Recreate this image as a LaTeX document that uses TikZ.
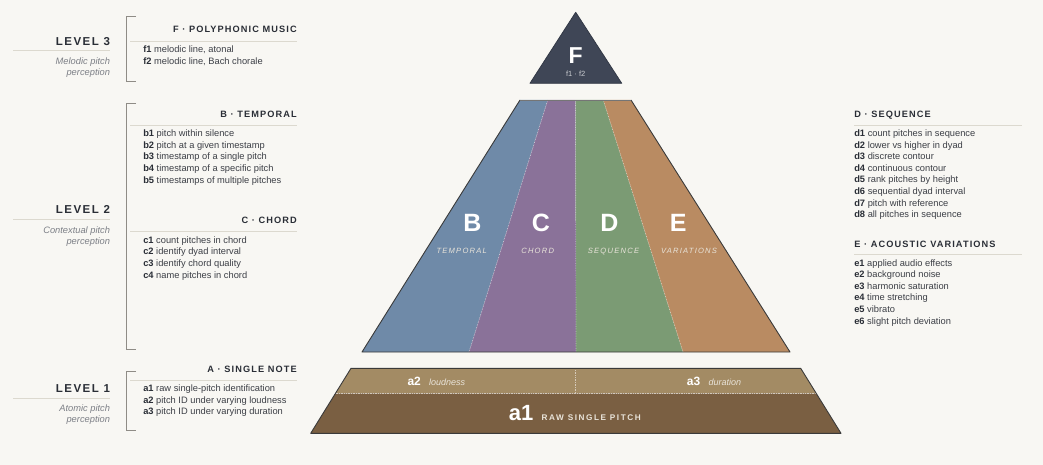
\documentclass[tikz,border=0pt]{standalone}
\usepackage{fontspec}
\setmainfont{Liberation Sans}
\newfontfamily\lvfont[LetterSpace=13]{Liberation Sans}
\newfontfamily\hdfont[LetterSpace=12]{Liberation Sans}
\newfontfamily\lbfont[LetterSpace=16]{Liberation Sans}
\newfontfamily\rawfont[LetterSpace=19]{Liberation Sans}
\definecolor{bg}{HTML}{F8F7F3}
\definecolor{ink}{HTML}{2A2E36}
\definecolor{itemc}{HTML}{3C3F46}
\definecolor{grayc}{HTML}{7C7F86}
\definecolor{rulec}{HTML}{DCD9CF}
\definecolor{brkc}{HTML}{8F8C86}
\definecolor{fcol}{HTML}{3F4656}
\definecolor{bcol}{HTML}{6F8AA8}
\definecolor{ccol}{HTML}{8A7299}
\definecolor{dcol}{HTML}{7B9B74}
\definecolor{ecol}{HTML}{B98B62}
\definecolor{atop}{HTML}{A38B64}
\definecolor{abot}{HTML}{7A5F42}
\definecolor{edge}{HTML}{3A3A3A}
\definecolor{lblc}{HTML}{E9E4DA}
\begin{document}
\begin{tikzpicture}[x=1pt,y=-1pt,
  every node/.style={inner sep=0pt, outer sep=0pt},
  lvl/.style={anchor=base east, font=\lvfont\bfseries\fontsize{11.5}{13}\selectfont, text=ink},
  lvsub/.style={anchor=base east, font=\itshape\fontsize{9.3}{11}\selectfont, text=grayc},
  headl/.style={anchor=base east, font=\hdfont\bfseries\fontsize{9.2}{11}\selectfont, text=ink},
  headr/.style={anchor=base west, font=\hdfont\bfseries\fontsize{9.2}{11}\selectfont, text=ink},
  item/.style={anchor=base west, font=\fontsize{9.3}{11}\selectfont, text=itemc},
  rl/.style={draw=rulec, line width=0.8pt},
  brk/.style={draw=brkc, line width=0.9pt},
  bigl/.style={anchor=base, font=\bfseries\fontsize{25}{28}\selectfont, text=white},
  bandl/.style={anchor=base, font=\lbfont\itshape\fontsize{7.6}{9}\selectfont, text=lblc},
  divl/.style={draw=white, opacity=0.45, line width=0.7pt, densely dotted},
  outl/.style={draw=edge, line width=0.9pt, line join=round}
]
\fill[bg] (0,0) rectangle (1043,465);
\useasboundingbox (0,0) rectangle (1043,465);

% ---------- left column: levels ----------
\node[lvl] (lv3) at (110,45.7) {LEVEL 3};
\draw[rl] (13,50) -- (110,50);
\node[lvsub] (lv3a) at (110,64.3) {Melodic pitch};
\node[lvsub] (lv3b) at (110,75.7) {perception};

\node[lvl] (lv2) at (110,213.3) {LEVEL 2};
\draw[rl] (13,219.3) -- (110,219.3);
\node[lvsub] (lv2a) at (110,233.3) {Contextual pitch};
\node[lvsub] (lv2b) at (110,244.5) {perception};

\node[lvl] (lv1) at (110,392.3) {LEVEL 1};
\draw[rl] (13,398.3) -- (110,398.3);
\node[lvsub] (lv1a) at (110,411) {Atomic pitch};
\node[lvsub] (lv1b) at (110,422.7) {perception};

% brackets
\draw[brk] (136,16) -- (126.7,16) -- (126.7,81) -- (136,81);
\draw[brk] (136,103.3) -- (126.7,103.3) -- (126.7,349) -- (136,349);
\draw[brk] (136,371) -- (126.7,371) -- (126.7,430.7) -- (136,430.7);

% F block
\node[headl] (hF) at (296.7,32.3) {F · POLYPHONIC MUSIC};
\draw[rl] (130,41) -- (297,41);
\foreach \c/\t [count=\i] in {f1/{melodic line, atonal}, f2/{melodic line, Bach chorale}}
  \node[item] (itF\i) at (143.3,{52.7+11.6*(\i-1)}) {\textbf{\textcolor{ink}{\c}} \t};

% B block
\node[headl] (hB) at (296.7,117.7) {B · TEMPORAL};
\draw[rl] (130,125.7) -- (297,125.7);
\foreach \c/\t [count=\i] in {b1/{pitch within silence}, b2/{pitch at a given timestamp}, b3/{timestamp of a single pitch}, b4/{timestamp of a specific pitch}, b5/{timestamps of multiple pitches}}
  \node[item] (itB\i) at (143.3,{136.7+11.6*(\i-1)}) {\textbf{\textcolor{ink}{\c}} \t};

% C block
\node[headl] (hC) at (296.7,223.3) {C · CHORD};
\draw[rl] (130,231) -- (297,231);
\foreach \c/\t [count=\i] in {c1/{count pitches in chord}, c2/{identify dyad interval}, c3/{identify chord quality}, c4/{name pitches in chord}}
  \node[item] (itC\i) at (143.3,{243.3+11.6*(\i-1)}) {\textbf{\textcolor{ink}{\c}} \t};

% A block
\node[headl] (hA) at (296.7,372.3) {A · SINGLE NOTE};
\draw[rl] (130,380) -- (297,380);
\foreach \c/\t [count=\i] in {a1/{raw single-pitch identification}, a2/{pitch ID under varying loudness}, a3/{pitch ID under varying duration}}
  \node[item] (itA\i) at (143.3,{391.7+11.6*(\i-1)}) {\textbf{\textcolor{ink}{\c}} \t};

% ---------- right column ----------
\node[headr] (hD) at (854.3,117.3) {D · SEQUENCE};
\draw[rl] (854.3,125) -- (1021.7,125);
\foreach \c/\t [count=\i] in {d1/{count pitches in sequence}, d2/{lower vs higher in dyad}, d3/{discrete contour}, d4/{continuous contour}, d5/{rank pitches by height}, d6/{sequential dyad interval}, d7/{pitch with reference}, d8/{all pitches in sequence}}
  \node[item] (itD\i) at (854.3,{136.7+11.57*(\i-1)}) {\textbf{\textcolor{ink}{\c}} \t};

\node[headr] (hE) at (854.3,247) {E · ACOUSTIC VARIATIONS};
\draw[rl] (854.3,254) -- (1021.7,254);
\foreach \c/\t [count=\i] in {e1/{applied audio effects}, e2/{background noise}, e3/{harmonic saturation}, e4/{time stretching}, e5/{vibrato}, e6/{slight pitch deviation}}
  \node[item] (itE\i) at (854.3,{266+11.6*(\i-1)}) {\textbf{\textcolor{ink}{\c}} \t};

% ---------- pyramid: F ----------
\fill[fcol] (575.7,12.3) -- (621.7,83.3) -- (530,83.3) -- cycle;
\draw[draw=fcol!80!black, line width=0.8pt, line join=round] (575.7,12.3) -- (621.7,83.3) -- (530,83.3) -- cycle;
\node[anchor=base, font=\bfseries\fontsize{23}{26}\selectfont, text=white] (lF) at (575.7,63.3) {F};
\node[anchor=base, font=\fontsize{7.5}{9}\selectfont, text=white!72!fcol] (lf12) at (575.7,76.7) {f1 · f2};

% ---------- pyramid: B C D E ----------
\fill[bcol] (520,100) -- (547.75,100) -- (469,352) -- (362,352) -- cycle;
\fill[ccol] (547.75,100) -- (575.5,100) -- (576,352) -- (469,352) -- cycle;
\fill[dcol] (575.5,100) -- (603.25,100) -- (683,352) -- (576,352) -- cycle;
\fill[ecol] (603.25,100) -- (631,100) -- (790,352) -- (683,352) -- cycle;
\draw[divl] (547.75,100) -- (469,352);
\draw[divl] (575.5,100) -- (576,352);
\draw[divl] (603.25,100) -- (683,352);
\draw[outl] (631,100) -- (790,352) -- (362,352) -- (520,100);
\draw[draw=edge!70!white, line width=0.9pt] (520,100) -- (631,100);

\node[bigl] (lB) at (472.5,231.7) {B};
\node[bigl] (lC) at (541,231.7) {C};
\node[bigl] (lD) at (609.3,231.7) {D};
\node[bigl] (lE) at (678.3,231.7) {E};
\node[bandl] (tB) at (461.7,253.3) {TEMPORAL};
\node[bandl] (tC) at (537.7,253.3) {CHORD};
\node[bandl] (tD) at (613.5,253.3) {SEQUENCE};
\node[bandl] (tE) at (689,253.3) {VARIATIONS};

% ---------- pyramid: A ----------
\fill[atop] (351,368.3) -- (800.7,368.3) -- (816.1,393.3) -- (335.6,393.3) -- cycle;
\fill[abot] (335.6,393.3) -- (816.1,393.3) -- (841,433.3) -- (310.7,433.3) -- cycle;
\draw[divl, opacity=0.55] (335.6,393.3) -- (816.1,393.3);
\draw[divl, opacity=0.55] (575.7,368.3) -- (575.7,393.3);
\draw[outl] (351,368.3) -- (800.7,368.3) -- (841,433.3) -- (310.7,433.3) -- cycle;

\node[anchor=base, font=\bfseries\fontsize{12}{14}\selectfont, text=white] (la2) at (414.2,385.7) {a2};
\node[anchor=base west, font=\itshape\fontsize{9}{11}\selectfont, text=lblc] (ta2) at (429,385.7) {loudness};
\node[anchor=base, font=\bfseries\fontsize{12}{14}\selectfont, text=white] (la3) at (693.5,385.7) {a3};
\node[anchor=base west, font=\itshape\fontsize{9}{11}\selectfont, text=lblc] (ta3) at (708.7,385.7) {duration};
\node[anchor=base, font=\bfseries\fontsize{22}{25}\selectfont, text=white] (la1) at (521,420.7) {a1};
\node[anchor=base west, font=\rawfont\bfseries\fontsize{8.2}{10}\selectfont, text=lblc] (ta1) at (541.7,420.3) {RAW SINGLE PITCH};
\end{tikzpicture}
\end{document}
